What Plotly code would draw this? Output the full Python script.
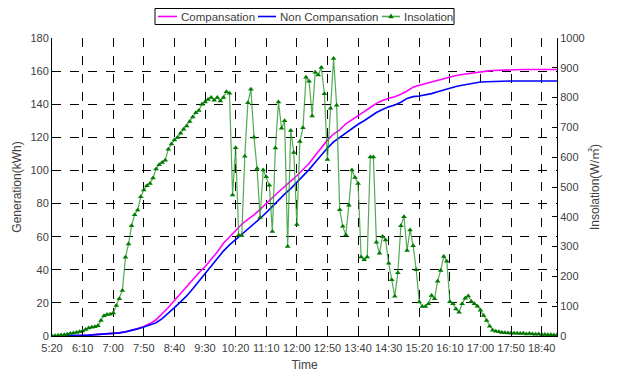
import plotly.graph_objects as go

# ---------------- data ----------------
tick_labels = ["5:20", "6:10", "7:00", "7:50", "8:40", "9:30", "10:20", "11:10", "12:00",
               "12:50", "13:40", "14:30", "15:20", "16:10", "17:00", "17:50", "18:40"]

series_names = ["Compansation", "Non Compansation", "Insolation"]
series_colors = ["#ff00ff", "#0000ff", "#008000"]

# Insolation (W/m2), every 5 minutes from 5:20 to 19:05
insolation = [
    0, 1, 2, 3, 4, 6, 8, 10, 12, 14,
    17, 22, 27, 29, 31, 34, 52, 68, 72, 73,
    77, 102, 125, 153, 264, 309, 370, 407, 423, 467,
    490, 504, 512, 530, 560, 575, 582, 590, 627, 644,
    658, 666, 680, 694, 705, 720, 735, 749, 757, 778,
    785, 794, 800, 791, 800, 789, 800, 820, 815, 473,
    632, 338, 337, 603, 783, 828, 667, 562, 398, 557,
    534, 506, 351, 631, 785, 697, 722, 300, 690, 616,
    374, 653, 699, 868, 855, 738, 885, 876, 901, 813,
    592, 764, 931, 774, 424, 368, 339, 439, 557, 532,
    512, 265, 256, 265, 601, 601, 315, 278, 334, 322,
    244, 189, 133, 212, 370, 400, 287, 356, 303, 222,
    114, 99, 99, 108, 136, 125, 184, 220, 267, 251,
    115, 108, 91, 80, 108, 127, 134, 116, 108, 100,
    86, 69, 52, 33, 19, 16, 14, 12, 11, 10,
    10, 9, 9, 8, 9, 7, 8, 7, 6, 7,
    5, 5, 4, 4, 3, 3,
]

# Generation (kWh), every 10 minutes from 5:20 to 19:00, plus 19:05
compensation = [
    0, 0, 0.1, 0.2, 0.3, 0.4, 0.5, 0.7, 0.9, 1.1,
    1.4, 1.9, 2.6, 3.5, 4.5, 5.8, 7.5, 9.8, 13.2, 17.2,
    21.5, 25.8, 30.2, 34.3, 38.2, 41.8, 46.0, 50.8, 56.0, 60.0,
    63.5, 67.5, 70.5, 73.2, 76.5, 79.7, 83.5, 87.0, 90.5, 93.5,
    96.8, 100.5, 104.2, 109.0, 113.8, 118.3, 122.0, 124.5, 128.2, 130.5,
    132.9, 135.5, 138.0, 140.5, 142.2, 143.6, 144.5, 146.0, 148.0, 150.3,
    151.4, 152.4, 153.4, 154.4, 155.8, 156.7, 157.4, 158.0, 158.6, 159.0,
    159.5, 160.0, 160.4, 160.6, 160.8, 160.9, 160.9, 161.0, 161.0, 161.0,
    161.0, 161.0, 161.0, 161.0,
]
non_compensation = [
    0, 0, 0.1, 0.2, 0.3, 0.4, 0.5, 0.7, 0.9, 1.1,
    1.4, 1.9, 2.5, 3.3, 4.3, 5.4, 6.5, 8.0, 10.5, 13.6,
    17.1, 20.6, 24.2, 28.5, 33.0, 37.5, 42.2, 46.8, 51.3, 55.0,
    58.2, 61.5, 64.5, 67.3, 71.0, 74.5, 78.3, 81.8, 85.7, 89.0,
    92.8, 96.2, 100.5, 105.0, 109.5, 113.5, 117.2, 120.0, 122.7, 125.5,
    127.9, 130.0, 132.5, 135.0, 136.8, 138.4, 139.5, 141.2, 143.5, 144.6,
    145.0, 145.6, 146.4, 147.5, 148.6, 149.8, 150.7, 151.5, 152.2, 152.8,
    153.4, 153.6, 153.8, 153.9, 154.0, 154.0, 154.0, 154.0, 154.0, 154.0,
    154.0, 154.0, 154.0, 154.0,
]

# ---------------- time axis (minutes since midnight) ----------------
start = 5 * 60 + 20
ins_x = [start + 5 * i for i in range(len(insolation))]
gen_x = [start + 10 * i for i in range(len(compensation) - 1)] + [ins_x[-1]]
tick_vals = [start + 50 * i for i in range(len(tick_labels))]

W, H = 617, 372
ML, MR, MT, MB = 52, 60, 38, 36
PW, PH = W - ML - MR, H - MT - MB


def px(x):
    return (x - ML) / PW


def py(y):
    return (H - MB - y) / PH


font_family = "Liberation Sans, Arial, Noto Sans CJK KR, sans-serif"
text_color = "#404040"
ins_line = "rgba(40,150,40,0.8)"

fig = go.Figure()
fig.add_trace(go.Scatter(x=gen_x, y=compensation, name=series_names[0], mode="lines",
                         line=dict(color=series_colors[0], width=1.6)))
fig.add_trace(go.Scatter(x=gen_x, y=non_compensation, name=series_names[1], mode="lines",
                         line=dict(color=series_colors[1], width=1.6)))
fig.add_trace(go.Scatter(x=ins_x, y=insolation, name=series_names[2], mode="lines+markers",
                         yaxis="y2",
                         line=dict(color=ins_line, width=1.2),
                         marker=dict(symbol="triangle-up", size=5, color="#007a00",
                                     line=dict(width=0))))

# ---------------- legend drawn as a compact box ----------------
shapes = [dict(type="rect", xref="paper", yref="paper",
               x0=px(155), x1=px(454), y0=py(24.5), y1=py(8.5),
               line=dict(color="black", width=1), fillcolor="white", layer="above")]
annotations = []
legend_items = [(158, 177, 179), (258, 276, 278), (382, 400, 402)]
for (lx0, lx1, tx), name, col in zip(legend_items, series_names, series_colors):
    shapes.append(dict(type="line", xref="paper", yref="paper",
                       x0=px(lx0), x1=px(lx1), y0=py(16.5), y1=py(16.5),
                       line=dict(color=col if name != "Insolation" else ins_line,
                                 width=1.6), layer="above"))
    annotations.append(dict(text=name, xref="paper", yref="paper", x=px(tx), y=py(16.5),
                            xanchor="left", yanchor="middle", showarrow=False,
                            font=dict(family=font_family, size=11.5, color=text_color)))
cx = (legend_items[2][0] + legend_items[2][1]) / 2
shapes.append(dict(type="path", xref="paper", yref="paper",
                   path=f"M {px(cx)},{py(13.5)} L {px(cx - 2.7)},{py(18.3)} L {px(cx + 2.7)},{py(18.3)} Z",
                   fillcolor="#007a00", line=dict(width=0), layer="above"))

fig.update_layout(
    width=W, height=H,
    margin=dict(l=ML, r=MR, t=MT, b=MB),
    paper_bgcolor="white", plot_bgcolor="white",
    font=dict(family=font_family, size=11, color=text_color),
    showlegend=False,
    shapes=shapes, annotations=annotations,
    xaxis=dict(range=[start, ins_x[-1]], tickmode="array", tickvals=tick_vals,
               ticktext=tick_labels, ticks="inside", ticklen=5, tickcolor="black",
               showline=True, linecolor="black", linewidth=1,
               showgrid=True, gridcolor="black", griddash="dash", gridwidth=1,
               zeroline=False, automargin=False, ticklabelstandoff=2,
               title=dict(text="Time", font=dict(size=12), standoff=7),
               tickfont=dict(size=11)),
    yaxis=dict(range=[0, 180], dtick=20, ticks="inside", ticklen=5, tickcolor="black",
               showline=True, linecolor="black", linewidth=1,
               showgrid=True, gridcolor="black", griddash="dash", gridwidth=1,
               zeroline=False, automargin=False,
               title=dict(text="Generation(kWh)", font=dict(size=12), standoff=6),
               tickfont=dict(size=11)),
    yaxis2=dict(range=[0, 1000], dtick=100, overlaying="y", side="right",
                ticks="inside", ticklen=5, tickcolor="black",
                showline=True, linecolor="black", linewidth=1,
                showgrid=False, zeroline=False, automargin=False,
                title=dict(text="Insolation(W/㎡)", font=dict(size=12), standoff=6),
                tickfont=dict(size=11)),
)

fig.write_html("out.html", config={"displayModeBar": False},
               post_script="document.body.style.margin='0';document.body.style.overflow='hidden';")
